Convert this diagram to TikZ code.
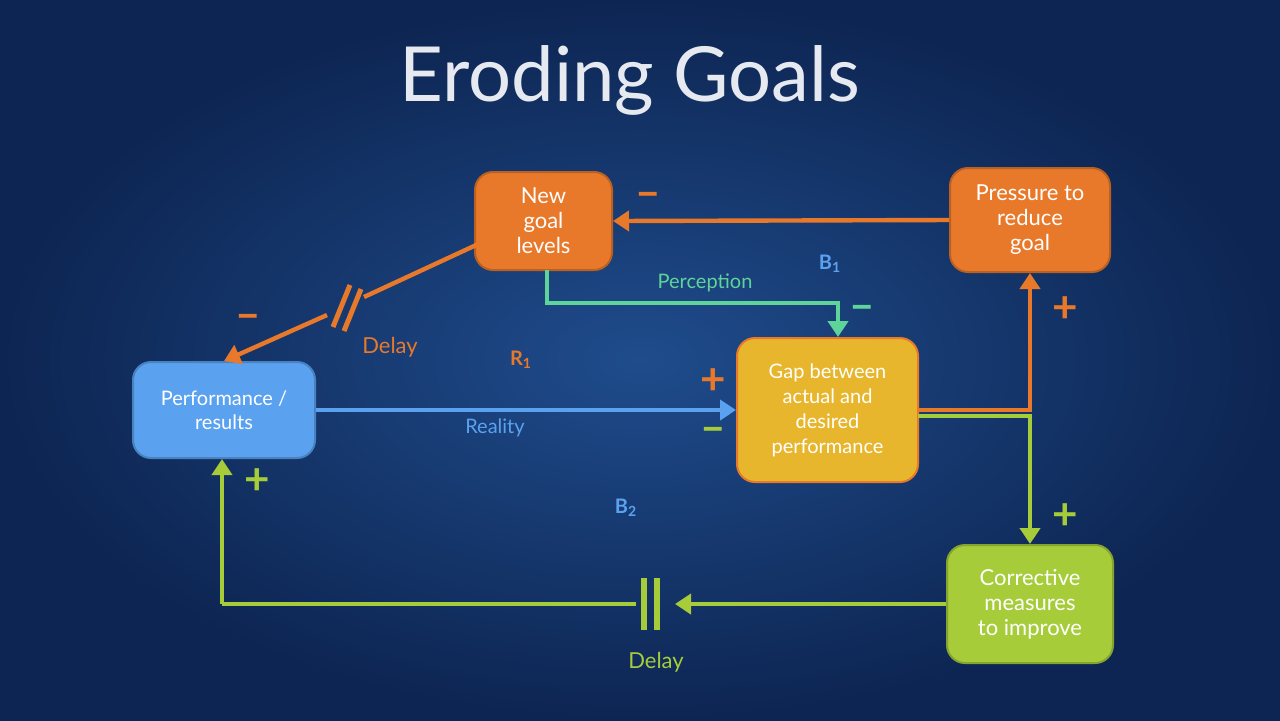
\documentclass[tikz,border=0pt]{standalone}
\usepackage{fontspec}
\setmainfont{Lato}
\usetikzlibrary{arrows.meta}
\definecolor{bgin}{HTML}{1F4C8C}
\definecolor{bgout}{HTML}{0D2552}
\definecolor{org}{HTML}{E8792A}
\definecolor{blu}{HTML}{5AA2F0}
\definecolor{yel}{HTML}{E8B62C}
\definecolor{grn}{HTML}{A6CC3A}
\definecolor{teal}{HTML}{5FD49A}
\definecolor{ttl}{HTML}{E6EAF0}
\tikzset{
 box/.style={rounded corners=9pt,draw=#1!80!black,fill=#1,line width=1pt,text=white,align=center,font=\fontsize{11}{12.5}\selectfont,inner sep=0pt},
 con/.style={draw=#1,line width=2.2pt,-{Triangle[length=8pt,width=10pt]}},
 lin/.style={draw=#1,line width=2.2pt},
 sgn/.style={text=#1,font=\fontsize{22}{22}\selectfont\bfseries},
 lab/.style={text=#1,font=\fontsize{10}{12}\selectfont},
}
\begin{document}
\begin{tikzpicture}[x=0.5pt,y=-0.5pt]
\useasboundingbox (0,0) rectangle (1280,720);
\shade[inner color=bgin,outer color=bgout] (0,0) rectangle (1280,720);
\node[text=ttl,font=\fontsize{38}{40}\selectfont] (title) at (630,80) {Eroding Goals};
\node[box=org,minimum width=68.5pt,minimum height=49pt] (ng) at (543.5,221) {New\\goal\\levels};
\node[box=org,minimum width=80pt,minimum height=52pt] (pr) at (1030,220) {Pressure to\\reduce\\goal};
\node[box=blu,minimum width=91pt,minimum height=48pt,font=\fontsize{10}{12}\selectfont] (pf) at (224,410) {Performance /\\results};
\node[box=yel,draw=org,minimum width=90.5pt,minimum height=72pt,font=\fontsize{10}{12.5}\selectfont] (gap) at (827.5,410) {Gap between\\actual and\\desired\\performance};
\node[box=grn,minimum width=83pt,minimum height=59pt] (cm) at (1030,604) {Corrective\\measures\\to improve};
% pressure -> new goal
\draw[con=org] (pr.west) -- (ng.east);
\node[sgn=org] (m1) at (648,200) {--};
% new goal -> performance with delay
\coordinate (ngs) at (487,240);
\coordinate (da) at (364,297);
\coordinate (db) at (327,315);
\draw[lin=org] (ngs) -- (da);
\draw[con=org] (db) -- (pf.north);
\draw[org,line width=2.5pt] (333,327) -- (350,285) (344,331) -- (361,289);
\node[sgn=org] (m2) at (248,322) {--};
\node[lab=org,font=\fontsize{11}{12}\selectfont] (dl1) at (390,347) {Delay};
% perception
\draw[con=teal] (547,270) |- (838,303) -- (gap.north -| 838,0);
\node[lab=teal] (pl) at (705,283) {Perception};
\node[sgn=teal] (m3) at (862,313) {--};
% reality
\draw[con=blu] (pf.east) -- (gap.west);
\node[lab=blu] (rl) at (495,428) {Reality};
\node[sgn=org] (p1) at (713,382) {+};
\node[sgn=grn] (m4) at (713,435) {--};
% gap -> pressure
\draw[con=org] (918,410) -| (pr.south);
\node[sgn=org] (p2) at (1065,310) {+};
% gap -> corrective
\draw[con=grn] (918,416) -| (cm.north);
\node[sgn=grn] (p3) at (1065,517) {+};
% corrective -> performance with delay
\draw[con=grn] (cm.west) -- (675,604);
\draw[lin=grn] (636,604) -- (222,604);
\draw[con=grn] (222,604) -- (pf.south -| 222,0);
\draw[grn,line width=3pt] (644,578) -- (644,630) (657,578) -- (657,630);
\node[lab=grn,font=\fontsize{11}{12}\selectfont] (dl2) at (656,662) {Delay};
\node[sgn=grn] (p4) at (257,482) {+};
% loop labels
\node[text=blu,font=\fontsize{10}{12}\selectfont\bfseries] (b1) at (830,264) {B\textsubscript{1}};
\node[text=org,font=\fontsize{10}{12}\selectfont\bfseries] (r1) at (521,360) {R\textsubscript{1}};
\node[text=blu,font=\fontsize{10}{12}\selectfont\bfseries] (b2) at (626,508) {B\textsubscript{2}};
\end{tikzpicture}
\end{document}
